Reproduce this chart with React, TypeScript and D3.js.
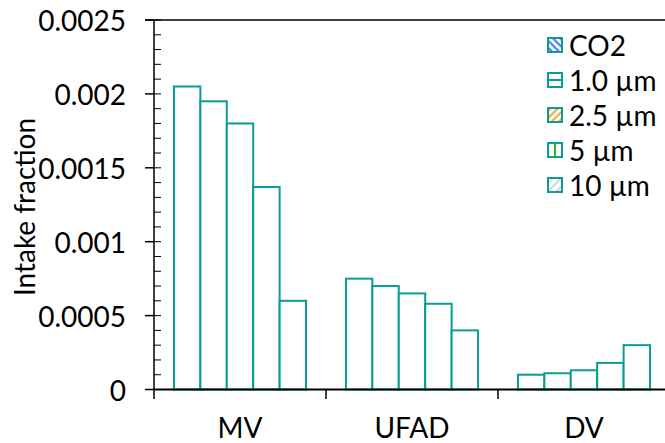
import React from 'react';
import * as d3 from 'd3';

const categories = ['MV', 'UFAD', 'DV'];
const seriesNames = ['CO2', '1.0 µm', '2.5 µm', '5 µm', '10 µm'];
const co2 = [0.00205, 0.00075, 0.0001];
const pm1 = [0.00195, 0.0007, 0.00011];
const pm25 = [0.0018, 0.00065, 0.00013];
const pm5 = [0.00137, 0.00058, 0.00018];
const pm10 = [0.0006, 0.0004, 0.0003];
const yTicks = [0, 0.0005, 0.001, 0.0015, 0.002, 0.0025];
const yTickLabels = ['0', '0.0005', '0.001', '0.0015', '0.002', '0.0025'];

const seriesValues = [co2, pm1, pm25, pm5, pm10];
const patternIds = ['pCO2', 'p1', 'p25', 'p5', 'p10'];

const W = 665;
const H = 443;
const TEAL = '#0a9d97';
const FONT = 'Lato, "Open Sans", sans-serif';
const FS = 28;

export default function App() {
  const x0 = 154;
  const x1 = 670;
  const yTop = 20;
  const yBot = 389.5;

  const y = d3.scaleLinear().domain([0, 0.0025]).range([yBot, yTop]);
  const xOuter = d3.scaleBand<string>().domain(categories).range([x0, x1]).padding(0);
  const bw = xOuter.bandwidth();
  const xInner = d3
    .scaleBand<string>()
    .domain(seriesNames)
    .range([bw * 0.116, bw * 0.884])
    .padding(0);

  const minorTicks = d3.range(0, 26).map((i) => i * 0.0001);

  const legendX = 548;
  const legendY0 = 45;
  const legendStep = 35;

  return (
    <svg
      width={W}
      height={H}
      style={{ position: 'absolute', left: 0, top: 0, background: '#fff' }}
      fontFamily={FONT}
    >
      <defs>
        <pattern id="pCO2" patternUnits="userSpaceOnUse" width="5" height="5" patternTransform="rotate(45)">
          <rect width="5" height="5" fill="#fff" />
          <rect width="5" height="2.2" fill="#4a86e8" />
        </pattern>
        <pattern id="p1" patternUnits="userSpaceOnUse" width="14" height="14">
          <rect width="14" height="14" fill="#fff" />
        </pattern>
        <pattern id="p25" patternUnits="userSpaceOnUse" width="5" height="5" patternTransform="rotate(-45)">
          <rect width="5" height="5" fill="#fff" />
          <rect width="5" height="2.2" fill="#f5a742" />
        </pattern>
        <pattern id="p5" patternUnits="userSpaceOnUse" width="14" height="14">
          <rect width="14" height="14" fill="#fff" />
        </pattern>
        <pattern id="p10" patternUnits="userSpaceOnUse" width="6" height="6" patternTransform="rotate(-45)">
          <rect width="6" height="6" fill="#fff" />
          <rect width="6" height="1.5" fill="#c8c8c8" />
        </pattern>
      </defs>

      {/* bars */}
      {categories.map((c, ci) => (
        <g key={c} transform={`translate(${xOuter(c)},0)`}>
          {seriesNames.map((s, si) => {
            const v = seriesValues[si][ci];
            return (
              <rect
                key={s}
                x={xInner(s)}
                y={y(v)}
                width={xInner.bandwidth()}
                height={yBot - y(v)}
                fill="#fff"
                stroke={TEAL}
                strokeWidth={2}
              />
            );
          })}
        </g>
      ))}

      {/* top border */}
      <line x1={145} x2={W} y1={yTop} y2={yTop} stroke="#000" strokeWidth={1.5} />

      {/* y axis */}
      <line x1={x0} x2={x0} y1={yTop} y2={399} stroke="#000" strokeWidth={1.5} />
      {minorTicks.map((t, i) => (
        <line key={'m' + i} x1={x0} x2={x0 + 7} y1={y(t)} y2={y(t)} stroke="#000" strokeWidth={1} />
      ))}
      {yTicks.map((t, i) => (
        <g key={'t' + i}>
          <line x1={145} x2={x0} y1={y(t)} y2={y(t)} stroke="#000" strokeWidth={1.5} />
          <text
            x={126}
            y={y(t)}
            textAnchor="end"
            dominantBaseline="central"
            fontSize={FS}
            fill="#000"
          >
            {yTickLabels[i]}
          </text>
        </g>
      ))}

      {/* x axis */}
      <line x1={x0} x2={x1} y1={yBot} y2={yBot} stroke="#000" strokeWidth={2} />
      {categories.slice(1).map((c) => (
        <line key={'xt' + c} x1={xOuter(c)} x2={xOuter(c)} y1={yBot} y2={399} stroke="#000" strokeWidth={1.5} />
      ))}
      {categories.map((c) => (
        <text
          key={'xl' + c}
          x={(xOuter(c) as number) + bw / 2}
          y={427}
          textAnchor="middle"
          dominantBaseline="central"
          fontSize={FS}
          fill="#000"
        >
          {c}
        </text>
      ))}

      {/* y title */}
      <text
        transform={`translate(24,${207}) rotate(-90)`}
        textAnchor="middle"
        dominantBaseline="central"
        fontSize={FS}
        fill="#000"
      >
        Intake fraction
      </text>

      {/* legend */}
      {seriesNames.map((s, i) => {
        const cy = legendY0 + i * legendStep;
        return (
          <g key={'lg' + s}>
            <rect x={legendX} y={cy - 7} width={14} height={14} fill={`url(#${patternIds[i]})`} stroke={TEAL} strokeWidth={2} />
            {i === 1 && (
              <line x1={legendX} x2={legendX + 14} y1={cy} y2={cy} stroke={TEAL} strokeWidth={2} />
            )}
            {i === 3 && (
              <line x1={legendX + 7} x2={legendX + 7} y1={cy - 7} y2={cy + 7} stroke="#22c422" strokeWidth={2} />
            )}
            <text x={legendX + 21} y={cy} dominantBaseline="central" fontSize={FS} fill="#000">
              {s}
            </text>
          </g>
        );
      })}
    </svg>
  );
}
